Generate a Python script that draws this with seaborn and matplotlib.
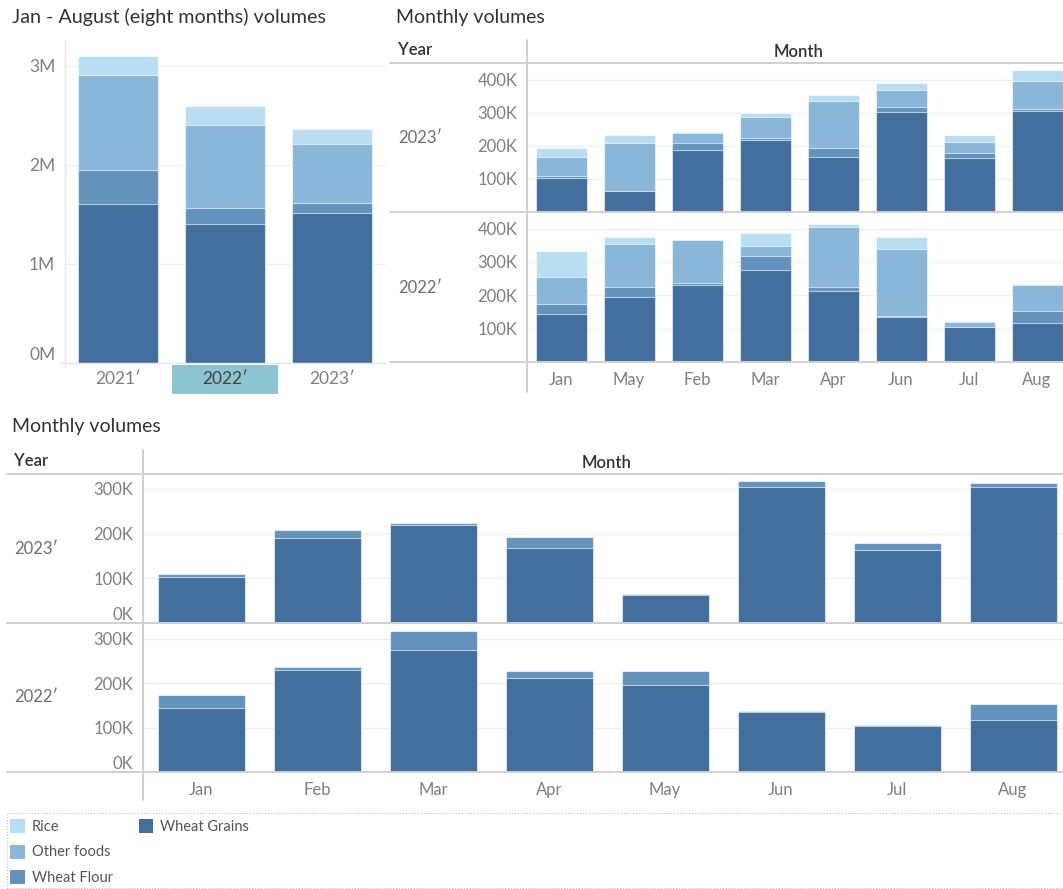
import pandas as pd
import matplotlib.pyplot as plt
import seaborn as sns
from matplotlib.lines import Line2D
from matplotlib.patches import Patch, Rectangle
from matplotlib.transforms import blended_transform_factory

sns.set_theme(style='white')
plt.rcParams['font.family'] = ['Lato', 'DejaVu Sans']

# ---- data ----
products = ["Wheat Grains", "Wheat Flour", "Other foods", "Rice"]   # bottom -> top
colors = {"Rice": "#b9ddf1", "Other foods": "#8ab6d9",
          "Wheat Flour": "#6393bd", "Wheat Grains": "#426f9e"}

# Jan - Aug totals per year
years = ["2021′", "2022′", "2023′"]
tot_grains = [1_600_000, 1_400_000, 1_510_000]
tot_flour = [350_000, 165_000, 100_000]
tot_other = [960_000, 840_000, 600_000]
tot_rice = [190_000, 190_000, 150_000]

# monthly volumes
months = ["Jan", "Feb", "Mar", "Apr", "May", "Jun", "Jul", "Aug"]
top_order = ["Jan", "May", "Feb", "Mar", "Apr", "Jun", "Jul", "Aug"]   # as shown top-right

grains_2023 = [103_000, 189_000, 219_000, 167_000, 63_000, 303_000, 163_000, 305_000]
flour_2023 = [7_000, 19_000, 4_000, 26_000, 2_000, 14_000, 15_000, 8_000]
other_2023 = [55_000, 30_000, 65_000, 143_000, 143_000, 51_000, 33_000, 83_000]
rice_2023 = [28_000, 3_000, 11_000, 18_000, 26_000, 22_000, 21_000, 33_000]

grains_2022 = [143_000, 230_000, 275_000, 212_000, 196_000, 135_000, 104_000, 116_000]
flour_2022 = [30_000, 7_000, 43_000, 14_000, 30_000, 3_000, 2_000, 37_000]
other_2022 = [81_000, 128_000, 29_000, 179_000, 127_000, 202_000, 15_000, 78_000]
rice_2022 = [79_000, 2_000, 41_000, 9_000, 22_000, 35_000, 2_000, 2_000]


def long_df(cats, key, series):
    rows = []
    for prod, vals in series.items():
        for c, v in zip(cats, vals):
            rows.append({key: c, "Product": prod, "Volume": v})
    df = pd.DataFrame(rows)
    df["Product"] = pd.Categorical(df["Product"], products, ordered=True)
    df = df.sort_values([key, "Product"])
    df["Top"] = df.groupby(key, observed=True)["Volume"].cumsum()
    return df


totals = long_df(years, "Year", {"Wheat Grains": tot_grains, "Wheat Flour": tot_flour,
                                 "Other foods": tot_other, "Rice": tot_rice})
m23 = long_df(months, "Month", {"Wheat Grains": grains_2023, "Wheat Flour": flour_2023,
                                "Other foods": other_2023, "Rice": rice_2023})
m22 = long_df(months, "Month", {"Wheat Grains": grains_2022, "Wheat Flour": flour_2022,
                                "Other foods": other_2022, "Rice": rice_2022})

# ---- layout helpers (pixel coords of a 1063x889 canvas) ----
W, H = 1063, 889
def fx(x): return x / W
def fy(y): return 1 - y / H
def box(l, t, r, b): return [l / W, 1 - b / H, (r - l) / W, (b - t) / H]

fig = plt.figure(figsize=(W / 100, H / 100), dpi=100)

TICK_C = '#7f7f7f'
DARK = '#333333'
LINE_C = '#cfcfcf'


def hline(x0, x1, y, color=LINE_C, lw=1.4):
    fig.add_artist(Line2D([fx(x0), fx(x1)], [fy(y), fy(y)], color=color, lw=lw))


def vline(x, y0, y1, color=LINE_C, lw=1.4):
    fig.add_artist(Line2D([fx(x), fx(x)], [fy(y0), fy(y1)], color=color, lw=lw))


def stacked(ax, df, key, order, layers):
    # draw cumulative tops from the highest layer down so lower ones cover
    for prod in reversed(layers):
        d = df[df["Product"] == prod]
        sns.barplot(data=d, x=key, y="Top", order=order, color=colors[prod],
                    saturation=1, width=0.75, errorbar=None,
                    edgecolor=(1, 1, 1, 0.6), linewidth=0.8, ax=ax)
    ax.set_xlabel('')
    ax.set_ylabel('')
    for s in ax.spines.values():
        s.set_visible(False)
    ax.yaxis.grid(True, color='#efefef', lw=1)
    ax.xaxis.grid(False)
    ax.set_axisbelow(True)
    ax.tick_params(length=0, labelcolor=TICK_C, labelsize=12)


# ---- top-left: Jan - Aug totals ----
ax0 = fig.add_axes(box(65, 40, 385, 363))
stacked(ax0, totals, "Year", years, products)
ax0.set_ylim(0, 3_260_000)
ax0.set_xlim(-0.5, 2.5)
yt = [0, 1_000_000, 2_000_000, 3_000_000]
ax0.set_yticks(yt, [f"{v / 1e6:.0f}M" for v in yt])
ax0.get_yticklabels()[0].set_verticalalignment('bottom')
ax0.tick_params(axis='y', pad=7, labelsize=12.5)
ax0.tick_params(axis='x', pad=6, labelsize=12.5)
for lab in ax0.get_xticklabels():
    if lab.get_text() == "2022′":
        lab.set_color('#444444')
ax0.add_patch(Rectangle((0.5, -0.095), 1.0, 0.09, facecolor='#8cc4d1', edgecolor='none',
                        transform=blended_transform_factory(ax0.transData, ax0.transAxes),
                        clip_on=False, zorder=0))
vline(65, 40, 367, color='#e8e8e8', lw=1)
hline(60, 385, 363, color='#e8e8e8', lw=1)
fig.text(fx(12), fy(17), "Jan - August (eight months) volumes", fontsize=14.2,
         color=DARK, va='center', ha='left')


# ---- monthly panels ----
def month_panel(rect, df, order, layers, ylim, ticks, zero_label, xlabels):
    ax = fig.add_axes(rect)
    stacked(ax, df, "Month", order, layers)
    ax.set_xlim(-0.5, 7.5)
    ax.set_ylim(*ylim)
    ax.set_yticks(ticks, [f"{v / 1000:.0f}K" for v in ticks])
    if zero_label:
        ax.get_yticklabels()[0].set_verticalalignment('bottom')
    ax.tick_params(axis='y', pad=7)
    if xlabels:
        ax.tick_params(axis='x', pad=7)
        ax.set_xticks([i + 0.5 for i in range(7)], minor=True)
        ax.tick_params(axis='x', which='minor', length=6, color='#e6e6e6', width=1)
    else:
        ax.tick_params(axis='x', labelbottom=False)
    return ax


# top-right
fig.text(fx(396), fy(17), "Monthly volumes", fontsize=14, color=DARK, va='center')
fig.text(fx(398), fy(50), "Year", fontsize=12, color=DARK, va='center', fontweight='semibold')
fig.text(fx(799), fy(52), "Month", fontsize=12, color=DARK, va='center', ha='center',
         fontweight='semibold')
k_ticks = [100_000, 200_000, 300_000, 400_000]
month_panel(box(527, 63, 1071, 212), m23, top_order, products, (0, 451_000), k_ticks, False, False)
month_panel(box(527, 212, 1071, 362), m22, top_order, products, (0, 450_000), k_ticks, False, True)
fig.text(fx(398), fy(138), "2023′", fontsize=12, color='#6e6e6e', va='center')
fig.text(fx(398), fy(288), "2022′", fontsize=12, color='#6e6e6e', va='center')
hline(390, 1063, 63)
hline(390, 1063, 212)
hline(390, 1063, 362)
vline(527, 40, 392)

# bottom
fig.text(fx(12), fy(426), "Monthly volumes", fontsize=14, color=DARK, va='center')
fig.text(fx(14), fy(461), "Year", fontsize=12, color=DARK, va='center', fontweight='semibold')
fig.text(fx(607), fy(463), "Month", fontsize=12, color=DARK, va='center', ha='center',
         fontweight='semibold')
b_ticks = [0, 100_000, 200_000, 300_000]
wheat = ["Wheat Grains", "Wheat Flour"]
month_panel(box(143, 474, 1071, 623), m23, months, wheat, (0, 333_000), b_ticks, True, False)
month_panel(box(143, 623, 1071, 772), m22, months, wheat, (0, 335_000), b_ticks, True, True)
fig.text(fx(14), fy(549), "2023′", fontsize=12, color='#6e6e6e', va='center')
fig.text(fx(14), fy(697), "2022′", fontsize=12, color='#6e6e6e', va='center')
hline(7, 1063, 474)
hline(7, 1063, 623)
hline(7, 1063, 772)
vline(143, 450, 800)

# ---- legend ----
fig.add_artist(Rectangle((fx(7), fy(888)), fx(1056), (888 - 813) / H, transform=fig.transFigure,
                         facecolor='none', edgecolor='#bdbdbd', lw=0.8, linestyle=':'))
order_leg = ["Rice", "Other foods", "Wheat Flour", "Wheat Grains"]
handles = [Patch(facecolor=colors[p], edgecolor='none') for p in order_leg]
handles += [Patch(facecolor='none', edgecolor='none')] * 2
labels = order_leg + ["", ""]
fig.legend(handles, labels, loc='upper left', bbox_to_anchor=(fx(6), fy(815)), ncol=2,
           frameon=False, fontsize=10.5, handlelength=1.0, handleheight=1.1,
           handletextpad=0.45, labelspacing=0.7, columnspacing=1.8,
           labelcolor='#555555', borderaxespad=0, borderpad=0.3)

fig.savefig('out.png', dpi=100)
